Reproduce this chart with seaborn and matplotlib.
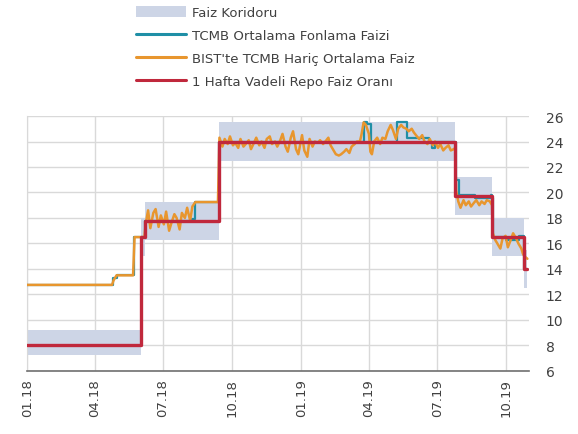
import pandas as pd
import matplotlib
matplotlib.use("Agg")
import matplotlib.pyplot as plt
import matplotlib.dates as mdates
from matplotlib.patches import Patch
from matplotlib.lines import Line2D
import seaborn as sns

# ======== DATA ========
# 1 Hafta Vadeli Repo (policy rate), step changes
policy_dates = ["2018-01-01", "2018-06-01", "2018-06-07", "2018-09-13",
                "2019-07-25", "2019-09-12", "2019-10-24", "2019-10-29"]
policy_rate = [8.0, 16.5, 17.75, 24.0, 19.75, 16.5, 14.0, 14.0]

# Faiz koridoru (lower / upper bound)
corr_dates = ["2018-01-01", "2018-06-01", "2018-06-07", "2018-09-13",
              "2019-07-25", "2019-09-12", "2019-10-24", "2019-10-29"]
corr_low = [7.25, 15.0, 16.25, 22.5, 18.25, 15.0, 12.5, 12.5]
corr_high = [9.25, 18.0, 19.25, 25.5, 21.25, 18.0, 15.5, 15.5]

# TCMB ortalama fonlama faizi
fund_dates = ["2018-01-01", "2018-04-25", "2018-04-30", "2018-05-23",
              "2018-06-07", "2018-08-08", "2018-08-13", "2018-09-13",
              "2018-09-14", "2019-03-21", "2019-03-25", "2019-03-29", "2019-04-04",
              "2019-05-06", "2019-05-09", "2019-05-16", "2019-05-22", "2019-06-20",
              "2019-06-24", "2019-06-28", "2019-07-25", "2019-07-26", "2019-07-30",
              "2019-08-20", "2019-09-10", "2019-09-12", "2019-09-13", "2019-09-30",
              "2019-10-18", "2019-10-24", "2019-10-29"]
fund_rate = [12.75, 13.3, 13.5, 16.5,
             17.75, 17.9, 19.25, 19.25,
             24.0, 24.0, 25.5, 25.4, 24.0,
             24.0, 25.5, 25.5, 24.3, 24.0,
             23.5, 24.0, 24.0, 21.0, 19.8,
             19.6, 19.8, 19.6, 16.5, 16.3,
             16.6, 14.0, 14.0]

# BIST'te TCMB haric ortalama faiz
bist_dates = ["2018-01-01", "2018-04-24", "2018-04-26", "2018-04-30", "2018-05-22",
              "2018-05-24", "2018-06-06", "2018-06-08", "2018-06-11", "2018-06-14",
              "2018-06-18", "2018-06-21", "2018-06-25", "2018-06-28", "2018-07-02",
              "2018-07-05", "2018-07-09", "2018-07-12", "2018-07-16", "2018-07-19",
              "2018-07-23", "2018-07-26", "2018-07-30", "2018-08-02", "2018-08-06",
              "2018-08-09", "2018-08-13", "2018-09-12",
              "2018-09-14", "2018-09-18", "2018-09-21", "2018-09-25", "2018-09-28",
              "2018-10-02", "2018-10-05", "2018-10-09", "2018-10-12", "2018-10-16",
              "2018-10-19", "2018-10-23", "2018-10-26", "2018-10-30", "2018-11-02",
              "2018-11-06", "2018-11-09", "2018-11-13", "2018-11-16", "2018-11-20",
              "2018-11-23", "2018-11-27", "2018-11-30", "2018-12-04", "2018-12-07",
              "2018-12-11", "2018-12-14", "2018-12-18", "2018-12-21", "2018-12-25",
              "2018-12-28", "2019-01-02", "2019-01-05", "2019-01-09", "2019-01-12",
              "2019-01-16", "2019-01-19", "2019-01-23", "2019-01-26", "2019-01-30",
              "2019-02-02", "2019-02-06", "2019-02-09", "2019-02-13", "2019-02-16",
              "2019-02-20", "2019-02-23", "2019-02-27", "2019-03-02", "2019-03-06",
              "2019-03-09", "2019-03-13", "2019-03-16", "2019-03-20", "2019-03-22",
              "2019-03-25", "2019-03-28", "2019-04-01", "2019-04-03", "2019-04-05",
              "2019-04-08", "2019-04-12", "2019-04-16", "2019-04-19", "2019-04-23",
              "2019-04-26", "2019-04-30", "2019-05-03", "2019-05-07", "2019-05-10",
              "2019-05-14", "2019-05-17", "2019-05-21", "2019-05-24", "2019-05-28",
              "2019-05-31", "2019-06-04", "2019-06-07", "2019-06-11", "2019-06-14",
              "2019-06-18", "2019-06-21", "2019-06-25", "2019-06-28", "2019-07-02",
              "2019-07-05", "2019-07-09", "2019-07-12", "2019-07-16", "2019-07-19",
              "2019-07-23", "2019-07-25", "2019-07-26", "2019-07-29", "2019-08-01",
              "2019-08-05", "2019-08-08", "2019-08-12", "2019-08-15", "2019-08-19",
              "2019-08-22", "2019-08-26", "2019-08-29", "2019-09-02", "2019-09-05",
              "2019-09-09", "2019-09-12", "2019-09-13", "2019-09-16", "2019-09-19",
              "2019-09-23", "2019-09-26", "2019-09-30", "2019-10-03", "2019-10-07",
              "2019-10-10", "2019-10-14", "2019-10-17", "2019-10-21", "2019-10-23",
              "2019-10-25", "2019-10-29"]
bist_rate = [12.75, 12.75, 13.1, 13.5, 13.5,
             16.5, 16.5, 17.6, 18.6, 17.2,
             18.4, 18.7, 17.3, 18.2, 17.5,
             18.5, 17.0, 17.6, 18.3, 18.0,
             17.1, 18.4, 18.0, 18.8, 17.8,
             18.9, 19.25, 19.25,
             24.3, 23.6, 24.2, 23.8, 24.4,
             23.7, 23.9, 23.5, 24.2, 23.6,
             23.8, 24.1, 23.4, 23.9, 24.3,
             23.7, 24.0, 23.5, 24.2, 24.4,
             23.8, 24.0, 23.6, 24.1, 24.6,
             23.6, 23.2, 24.3, 24.8, 23.4,
             23.0, 24.5, 23.3, 22.8, 24.2,
             23.6, 24.0, 23.9, 24.1, 23.8,
             24.0, 24.3, 23.7, 23.3, 23.0,
             22.9, 23.0, 23.2, 23.4, 23.1,
             23.6, 23.8, 24.0, 24.0, 24.5,
             25.5, 25.3, 24.6, 23.2, 23.0,
             24.0, 24.3, 23.8, 24.3, 24.2,
             24.8, 25.3, 24.9, 24.2, 25.0,
             25.3, 25.1, 25.0, 24.8, 25.0,
             24.7, 24.4, 24.2, 24.5, 24.0,
             23.8, 24.2, 23.7, 24.0, 23.5,
             23.8, 23.3, 23.5, 23.7, 23.3,
             23.4, 23.5, 20.2, 19.3, 18.8,
             19.4, 19.0, 19.3, 18.9, 19.2,
             19.4, 19.0, 19.3, 19.1, 19.4,
             19.3, 19.0, 16.8, 16.3, 16.0,
             15.6, 16.4, 16.6, 15.7, 16.3,
             16.8, 16.4, 16.0, 15.6, 15.2,
             15.0, 14.8]

tick_dates = ["2018-01-01", "2018-04-01", "2018-07-01", "2018-10-01",
              "2019-01-01", "2019-04-01", "2019-07-01", "2019-10-01"]
y_ticks = [6, 8, 10, 12, 14, 16, 18, 20, 22, 24, 26]
# ======================

BAND = "#cdd5e6"
TEAL = "#1f8fa6"
ORANGE = "#e8962e"
RED = "#c0283c"
TEXT = "#404040"

sns.set_style("white")
plt.rcParams["font.family"] = ["DejaVu Sans"]

policy = pd.DataFrame({"date": pd.to_datetime(policy_dates), "rate": policy_rate})
corr = pd.DataFrame({"date": pd.to_datetime(corr_dates), "low": corr_low, "high": corr_high})
fund = pd.DataFrame({"date": pd.to_datetime(fund_dates), "rate": fund_rate})
bist = pd.DataFrame({"date": pd.to_datetime(bist_dates), "rate": bist_rate})

fig = plt.figure(figsize=(5.78, 4.35), dpi=100)
ax = fig.add_axes([0.047, 0.145, 0.868, 0.586])

ax.fill_between(corr["date"], corr["low"], corr["high"], step="post",
                color=BAND, linewidth=0, zorder=1)
sns.lineplot(data=fund, x="date", y="rate", ax=ax, color=TEAL, linewidth=1.6,
             drawstyle="steps-post", zorder=3)
sns.lineplot(data=bist, x="date", y="rate", ax=ax, color=ORANGE, linewidth=1.8, zorder=4)
sns.lineplot(data=policy, x="date", y="rate", ax=ax, color=RED, linewidth=2.4,
             drawstyle="steps-post", zorder=5)

ax.set_xlim(pd.Timestamp("2018-01-01"), pd.Timestamp("2019-10-31"))
ax.set_ylim(6, 26)
ax.set_xticks(pd.to_datetime(tick_dates))
ax.xaxis.set_major_formatter(mdates.DateFormatter("%m.%y"))
ax.set_yticks(y_ticks)
ax.yaxis.tick_right()
ax.set_xlabel("")
ax.set_ylabel("")

ax.grid(True, color="#d9d9d9", linewidth=1.0, zorder=0)
ax.set_axisbelow(True)
for side in ["top", "right"]:
    ax.spines[side].set_visible(False)
ax.spines["left"].set_color("#d9d9d9")
ax.spines["bottom"].set_color("#707070")
ax.spines["bottom"].set_linewidth(1.2)

ax.tick_params(axis="x", labelrotation=90, labelsize=9.5, colors=TEXT,
               direction="inout", length=6, color="#707070", pad=2)
ax.tick_params(axis="y", labelsize=10, colors=TEXT, length=0, pad=12)

handles = [
    Patch(facecolor=BAND, edgecolor="none", label="Faiz Koridoru"),
    Line2D([], [], color=TEAL, linewidth=2.2, label="TCMB Ortalama Fonlama Faizi"),
    Line2D([], [], color=ORANGE, linewidth=2.2, label="BIST'te TCMB Hariç Ortalama Faiz"),
    Line2D([], [], color=RED, linewidth=2.2, label="1 Hafta Vadeli Repo Faiz Oranı"),
]
fig.legend(handles=handles, loc="upper left", bbox_to_anchor=(0.215, 1.012),
           frameon=False, fontsize=9.5, handlelength=3.8, handleheight=1.0,
           labelspacing=0.72, handletextpad=0.4, labelcolor=TEXT)

fig.savefig("out.png", dpi=100)
